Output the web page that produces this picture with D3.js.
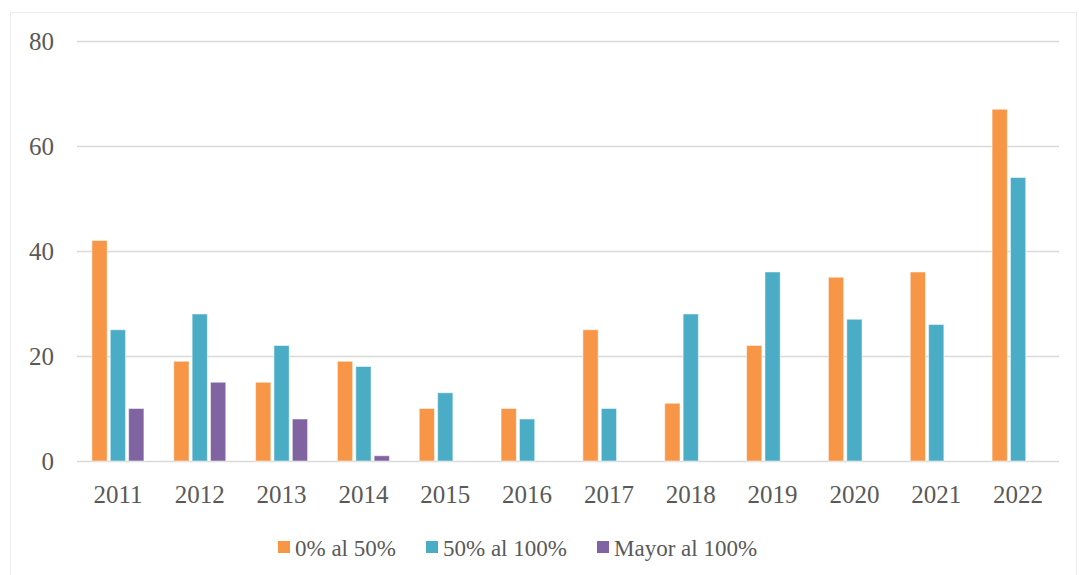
<!DOCTYPE html>
<html>
<head>
<meta charset="utf-8">
<script src="https://cdn.jsdelivr.net/npm/d3@7"></script>
<style>
  body { margin: 0; background: #fff; }
</style>
</head>
<body>
<div id="chart"></div>
<script>
// data
const years = ["2011","2012","2013","2014","2015","2016","2017","2018","2019","2020","2021","2022"];
const seriesNames = ["0% al 50%", "50% al 100%", "Mayor al 100%"];
const lowValues  = [42, 19, 15, 19, 10, 10, 25, 11, 22, 35, 36, 67];
const midValues  = [25, 28, 22, 18, 13,  8, 10, 28, 36, 27, 26, 54];
const highValues = [10, 15,  8,  1,  0,  0,  0,  0,  0,  0,  0,  0];
const yTicks = [0, 20, 40, 60, 80];
const colors = ["#F79646", "#4BACC6", "#8064A2"];

const fontFam = "Times New Roman, Liberation Serif, DejaVu Serif, serif";
const width = 1079, height = 575;
const margin = {top: 41, right: 20, bottom: 114, left: 77};

const svg = d3.select("#chart")
  .append("svg")
    .attr("width", width)
    .attr("height", height);

// outer chart border
svg.append("rect")
  .attr("x", 10.5).attr("y", 12.5)
  .attr("width", 1066).attr("height", 570)
  .attr("fill", "none")
  .attr("stroke", "#EDEDED");

const g = svg.append("g")
  .attr("transform", `translate(${margin.left}, ${margin.top})`);

const w = width - margin.left - margin.right;
const h = height - margin.top - margin.bottom;

const x = d3.scaleBand()
  .domain(years)
  .range([0, w]);

const x1 = d3.scaleBand()
  .domain([0, 1, 2])
  .range([x.bandwidth() / 2 - 26, x.bandwidth() / 2 + 26])
  .paddingInner(0.17);

const y = d3.scaleLinear()
  .domain([0, 80])
  .range([h, 0]);

// gridlines + y labels
const yAxis = g.append("g")
  .call(d3.axisLeft(y).tickValues(yTicks).tickSize(-w).tickPadding(23))
yAxis.attr("font-family", fontFam);
yAxis.select(".domain").remove();
yAxis.selectAll("line")
  .attr("stroke", "#D9D9D9")
  .attr("stroke-width", 1.5);
yAxis.selectAll("text")
  .attr("font-size", 25)
  .attr("fill", "#595959");

// x labels
const xAxis = g.append("g")
  .attr("transform", `translate(0, ${h})`)
  .call(d3.axisBottom(x).tickSize(0).tickPadding(24));
xAxis.attr("font-family", fontFam);
xAxis.select(".domain").remove();
xAxis.selectAll("text")
  .attr("font-size", 25)
  .attr("fill", "#595959");

const table = years.map((yr, i) => ({year: yr, vals: [lowValues[i], midValues[i], highValues[i]]}));

const groups = g.selectAll(".grp")
  .data(table)
  .join("g")
    .attr("class", "grp")
    .attr("transform", d => `translate(${x(d.year)}, 0)`);

groups.selectAll("rect")
  .data(d => d.vals.map((v, k) => ({k, v})).filter(e => e.v > 0))
  .join("rect")
    .attr("x", d => x1(d.k))
    .attr("y", d => y(d.v))
    .attr("width", x1.bandwidth())
    .attr("height", d => y(0) - y(d.v))
    .attr("fill", d => colors[d.k])
    .attr("stroke", "#fff")
    .attr("stroke-opacity", 0.5)
    .attr("stroke-width", 1);

// legend
const legendX = [278, 426, 597];
const legend = svg.append("g")
  .attr("font-family", fontFam)
  .attr("transform", "translate(0, 547)");
seriesNames.forEach((name, i) => {
  legend.append("rect")
    .attr("x", legendX[i]).attr("y", -6)
    .attr("width", 12).attr("height", 12)
    .attr("fill", colors[i]);
  legend.append("text")
    .attr("x", legendX[i] + 17)
    .attr("y", 9)
    .attr("font-size", 23)
    .attr("fill", "#595959")
    .text(name);
});
</script>
</body>
</html>
